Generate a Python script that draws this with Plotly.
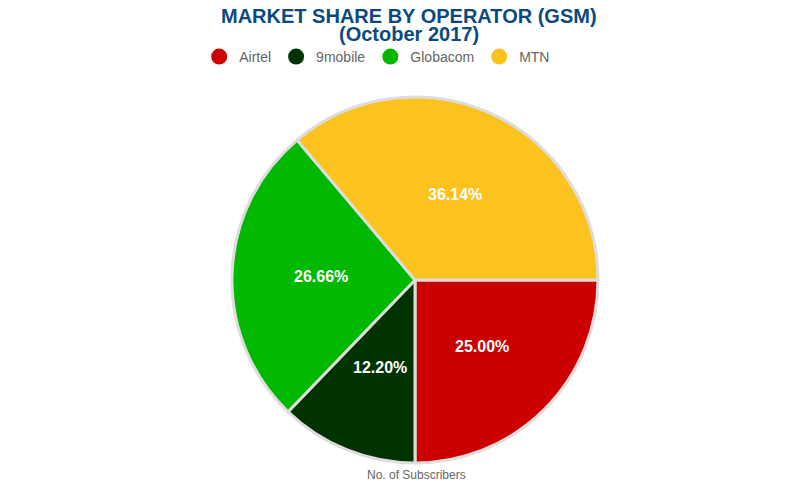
import math
import plotly.graph_objects as go

operators = ['Airtel', '9mobile', 'Globacom', 'MTN']
share = [25.00, 12.20, 26.66, 36.14]
colours = ['#cc0000', '#003300', '#00b800', '#fcc21e']

W, H = 800, 500
dom_x = [0.28, 0.7375]
dom_y = [0.09, 0.822]
start = 90  # first slice starts at 3 o'clock, clockwise

fig = go.Figure()

fig.add_trace(go.Pie(
    labels=operators,
    values=share,
    sort=False,
    direction='clockwise',
    rotation=start,
    marker=dict(colors=colours, line=dict(color='#dddddd', width=3)),
    textinfo='none',
    domain=dict(x=dom_x, y=dom_y),
    showlegend=False,
    hoverinfo='label+percent',
))

# circle legend markers
for name, col in zip(operators, colours):
    fig.add_trace(go.Scatter(
        x=[None], y=[None], mode='markers', name=name,
        marker=dict(symbol='circle', size=16, color=col),
    ))

# data labels placed halfway out along each slice
cx = sum(dom_x) / 2
cy = sum(dom_y) / 2
r_px = min((dom_x[1] - dom_x[0]) * W, (dom_y[1] - dom_y[0]) * H) / 2
dist = 0.515 * r_px
annots = []
total = sum(share)
cum = 0
for v in share:
    theta = math.radians(start + 360 * (cum + v / 2) / total)
    cum += v
    annots.append(dict(
        text='%.2f%%' % v,
        x=cx + math.sin(theta) * dist / W,
        y=cy + math.cos(theta) * dist / H,
        xref='paper', yref='paper', showarrow=False,
        xanchor='center', yanchor='middle',
        font=dict(size=16, color='white', weight='bold'),
    ))

title_font = dict(size=20, color='#0b4a80', weight='bold')
annots += [
    dict(text='MARKET SHARE BY OPERATOR (GSM)', x=0.501, y=0.985,
         xref='paper', yref='paper', showarrow=False,
         xanchor='center', yanchor='middle', font=title_font),
    dict(text='(October 2017)', x=0.501, y=0.949,
         xref='paper', yref='paper', showarrow=False,
         xanchor='center', yanchor='middle', font=title_font),
    dict(text='No. of Subscribers', x=0.51, y=0.066, xref='paper', yref='paper',
         showarrow=False, xanchor='center', yanchor='middle',
         font=dict(size=12, color='#666666')),
]

fig.update_layout(
    width=W, height=H,
    margin=dict(l=0, r=0, t=0, b=0),
    paper_bgcolor='white', plot_bgcolor='white',
    font=dict(family='Liberation Sans, Arial', color='#666666'),
    legend=dict(
        orientation='h', x=0.4615, xanchor='center', y=0.902, yanchor='middle',
        font=dict(size=14, color='#666666'),
    ),
    xaxis=dict(visible=False),
    yaxis=dict(visible=False),
    annotations=annots,
)

fig.write_html("out.html")
